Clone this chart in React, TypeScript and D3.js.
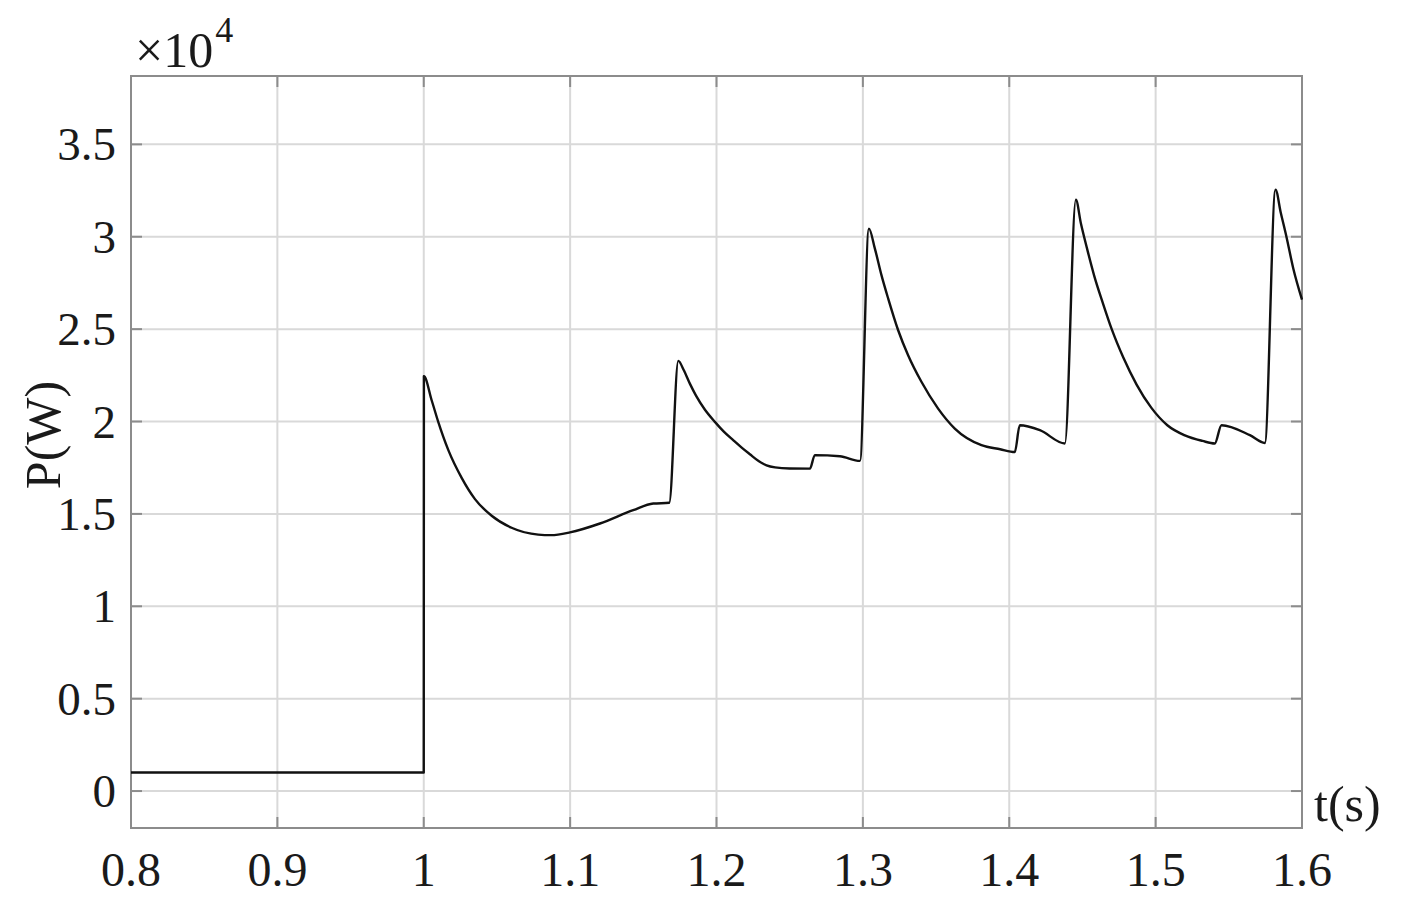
import React from "react";
import * as d3 from "d3";

// time (s) and power (W)
const timeS = [
  0.8, 1.0, 1.0001, 1.0054, 1.0099, 1.0168, 1.0259, 1.035, 1.0464, 1.06, 1.0782,
  1.087, 1.0999, 1.1204, 1.1431, 1.1568, 1.1677, 1.1739, 1.1775, 1.1818, 1.186,
  1.192, 1.1989, 1.205, 1.2114, 1.217, 1.2228, 1.229, 1.2342, 1.24, 1.25, 1.2638,
  1.2672, 1.2843, 1.298, 1.3041, 1.3082, 1.3127, 1.3173, 1.3241, 1.3309, 1.34,
  1.3514, 1.3628, 1.381, 1.3938, 1.4038, 1.4072, 1.4209, 1.438, 1.4455, 1.449,
  1.4535, 1.458, 1.464, 1.47, 1.478, 1.487, 1.497, 1.508, 1.52, 1.532, 1.5404,
  1.545, 1.5644, 1.5746, 1.5819, 1.5855, 1.5894, 1.594, 1.6,
];
const powerW = [
  1000, 1000, 22450, 21150, 19980, 18450, 16950, 15800, 14900, 14250, 13880,
  13850, 14000, 14480, 15200, 15560, 15600, 23280, 22800, 22050, 21400,
  20650, 19980, 19450, 18990, 18600, 18230, 17850, 17630, 17520, 17460, 17450,
  18180, 18120, 17870, 30440, 29360, 27920, 26650, 24940, 23590, 22150,
  20700, 19620, 18720, 18500, 18350, 19800, 19530, 18810, 32000, 30700,
  29250, 27900, 26400, 25000, 23450, 22000, 20750, 19800, 19250, 18950, 18810,
  19800, 19260, 18840, 32550, 31300, 29990, 28300, 26600,
];
const xTicks = [0.8, 0.9, 1.0, 1.1, 1.2, 1.3, 1.4, 1.5, 1.6];
const yTicks = [0, 5000, 10000, 15000, 20000, 25000, 30000, 35000];

const W = 1406;
const H = 904;
const left = 131, right = 1302, top = 76, bottom = 828;
const font = "'Liberation Serif', 'Times New Roman', serif";

export default function App() {
  const x = d3.scaleLinear().domain([0.8, 1.6]).range([left, right]);
  const y = d3.scaleLinear().domain([-2000, 38700]).range([bottom, top]);

  const pts = timeS.map((t, i) => [t, powerW[i]] as [number, number]);
  const line = d3
    .line<[number, number]>()
    .x((d) => x(d[0]))
    .y((d) => y(d[1]))
    .curve(d3.curveMonotoneX);

  const axisColor = "#8c8c8c";
  const gridColor = "#d9d9d9";
  const tickLen = 11;

  return (
    <svg width={W} height={H} style={{ position: "absolute", left: 0, top: 0, background: "#fff" }}>
      <rect x={0} y={0} width={W} height={H} fill="#fff" />
      {/* grid */}
      {xTicks.slice(1, -1).map((t) => (
        <line key={"gx" + t} x1={x(t)} x2={x(t)} y1={top} y2={bottom} stroke={gridColor} strokeWidth={2} />
      ))}
      {yTicks.map((v) => (
        <line key={"gy" + v} x1={left} x2={right} y1={y(v)} y2={y(v)} stroke={gridColor} strokeWidth={2} />
      ))}
      {/* ticks */}
      {xTicks.map((t) => (
        <g key={"tx" + t}>
          <line x1={x(t)} x2={x(t)} y1={bottom} y2={bottom - tickLen} stroke={axisColor} strokeWidth={2} />
          <line x1={x(t)} x2={x(t)} y1={top} y2={top + tickLen} stroke={axisColor} strokeWidth={2} />
          <text x={x(t)} y={886} textAnchor="middle" fontFamily={font} fontSize={48} fill="#1a1a1a">
            {String(+t.toFixed(1))}
          </text>
        </g>
      ))}
      {yTicks.map((v) => (
        <g key={"ty" + v}>
          <line x1={left} x2={left + tickLen} y1={y(v)} y2={y(v)} stroke={axisColor} strokeWidth={2} />
          <line x1={right} x2={right - tickLen} y1={y(v)} y2={y(v)} stroke={axisColor} strokeWidth={2} />
          <text x={116} y={y(v) + 16} textAnchor="end" fontFamily={font} fontSize={47} fill="#1a1a1a">
            {String(+(v / 10000).toFixed(1))}
          </text>
        </g>
      ))}
      {/* box */}
      <rect x={left} y={top} width={right - left} height={bottom - top} fill="none" stroke={axisColor} strokeWidth={2} />
      {/* trace */}
      <path d={line(pts) ?? ""} fill="none" stroke="#111" strokeWidth={2.4} strokeLinejoin="round" />
      {/* labels */}
      <text x={135} y={67} fontFamily={font} fontSize={50} fill="#1a1a1a">
        ×10
        <tspan dx={2} dy={-25} fontSize={36}>4</tspan>
      </text>
      <text x={1314} y={821} fontFamily={font} fontSize={50} fill="#1a1a1a">t(s)</text>
      <text
        transform={`translate(60, ${435}) rotate(-90)`}
        textAnchor="middle"
        fontFamily={font}
        fontSize={50}
        fill="#1a1a1a"
      >
        P(W)
      </text>
    </svg>
  );
}
